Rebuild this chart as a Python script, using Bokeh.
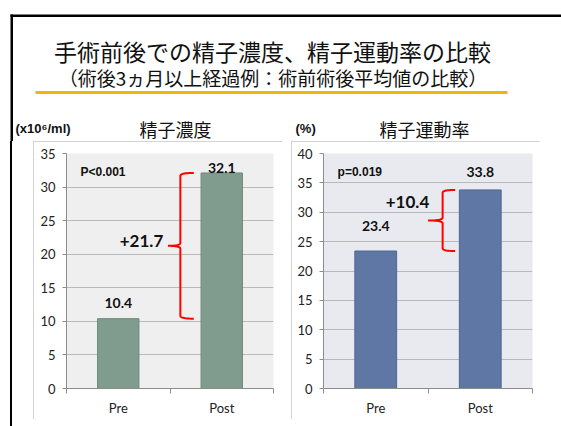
import numpy as np
from bokeh.plotting import figure
from bokeh.layouts import column, row
from bokeh.models import Range1d, Label, BoxAnnotation, FixedTicker, ColumnDataSource, Spacer
from bokeh.core.properties import value
from bokeh.embed import file_html
from bokeh.resources import INLINE

# ---------------- data ----------------
title_main = "手術前後での精子濃度、精子運動率の比較"
title_sub = "（術後3ヵ月以上経過例：術前術後平均値の比較）"

categories = ["Pre", "Post"]

conc_title = "精子濃度"
conc_unit = "(x10⁶/ml)"
conc_values = [10.4, 32.1]
conc_p = "P<0.001"
conc_ymax = 35

mot_title = "精子運動率"
mot_unit = "(%)"
mot_values = [23.4, 33.8]
mot_p = "p=0.019"
mot_ymax = 40

yticks_step = 5

JP = "Noto Sans CJK JP"
NUM = "Lato"
ARIAL = "Liberation Sans"

PAGE_W, PAGE_H = 561, 426
H_TOP = 141          # top strip (titles)
H_ROW = PAGE_H - H_TOP
STRIP_W = 33         # slide margin left of first panel
PANEL_W, PANEL_H = 249, 278
GAP = 9


def canvas_fig(w, h):
    f = figure(width=w, height=h, x_range=Range1d(0, w), y_range=Range1d(h, 0),
               output_backend="svg", toolbar_location=None,
               min_border=0, min_border_left=0, min_border_right=0,
               min_border_top=0, min_border_bottom=0)
    f.axis.visible = False
    f.grid.visible = False
    f.outline_line_color = None
    f.border_fill_color = "white"
    f.background_fill_color = "white"
    return f


def solid(f, l, r, t, b, color):
    f.add_layout(BoxAnnotation(left=l, right=r, top=t, bottom=b, fill_color=color,
                               fill_alpha=1, line_color=None))


top = canvas_fig(PAGE_W, H_TOP)
solid(top, 10, PAGE_W, 14, 16.5, "black")        # slide border top
solid(top, 10, 12.5, 14, H_TOP, "black")          # slide border left
solid(top, 35, 507, 90.5, 93.5, "#F5B400")        # gold rule
top.add_layout(Label(x=272, y=50, text=title_main, text_align="center", text_baseline="middle",
                     text_font=JP, text_font_size="23px", text_color="#111111"))
top.add_layout(Label(x=272.5, y=77, text=title_sub, text_align="center", text_baseline="middle",
                     text_font=JP, text_font_size="19px", text_color="#111111"))
for txt, cx in [(conc_title, 175), (mot_title, 424)]:
    top.add_layout(Label(x=cx, y=128, text=txt, text_align="center", text_baseline="middle",
                         text_font=JP, text_font_size="18px", text_color="#111111"))
for txt, lx in [(conc_unit, 15), (mot_unit, 295)]:
    top.add_layout(Label(x=lx, y=128, text=txt, text_align="left", text_baseline="middle",
                         text_font=ARIAL, text_font_style="bold", text_font_size="13px",
                         text_color="#111111"))

# left slide border continuing beside the panels
strip = Spacer(width=STRIP_W, height=H_ROW,
               styles={"background": "linear-gradient(to right, #ffffff 0px, #ffffff 10px, "
                                     "#000000 10px, #000000 12.5px, #ffffff 12.5px)"})


def brace_path(xv, xend, xtip, ybot, ytop, ymid, r):
    t = np.linspace(0, 1, 12)

    def quad(p0, c, p1):
        return ((1 - t) ** 2 * p0[0] + 2 * (1 - t) * t * c[0] + t ** 2 * p1[0],
                (1 - t) ** 2 * p0[1] + 2 * (1 - t) * t * c[1] + t ** 2 * p1[1])
    segs = [
        quad((xend, ytop), (xv, ytop), (xv, ytop - r)),
        quad((xv, ymid + r), (xv, ymid), (xtip, ymid)),
        quad((xtip, ymid), (xv, ymid), (xv, ymid - r)),
        quad((xv, ybot + r), (xv, ybot), (xend, ybot)),
    ]
    return np.concatenate([s[0] for s in segs]), np.concatenate([s[1] for s in segs])


def chart(x0, bl, br, ymax, vals, color, edge, bg, pval, label_y, diff_px, brace_x):
    n = len(categories)
    bt, bb = 12, 31
    fl, fw = bl, PANEL_W - bl - br
    ft, fh = bt, PANEL_H - bt - bb

    def dx(px):  # page px -> data x
        return (px - x0 - fl) / fw * n

    def dy(py):  # page px -> data y
        return ymax * (ft + fh - (py - H_TOP)) / fh

    centers = np.arange(n) + 0.5
    bounds = np.arange(n + 1)
    p = figure(width=PANEL_W, height=PANEL_H, x_range=Range1d(0, n), y_range=Range1d(0, ymax),
               output_backend="svg", toolbar_location=None,
               min_border_left=bl, min_border_right=br, min_border_top=bt, min_border_bottom=bb,
               styles={"outline": "1.5px solid #C6C6C6", "outline-offset": "-1.5px"})
    p.background_fill_color = bg
    p.border_fill_color = "white"
    p.outline_line_color = None
    p.xgrid.visible = False
    p.ygrid.grid_line_color = "#B9B9B9"
    p.ygrid.ticker = FixedTicker(ticks=list(range(yticks_step, ymax + 1, yticks_step)))

    p.yaxis.ticker = FixedTicker(ticks=list(range(0, ymax + 1, yticks_step)))
    p.yaxis.axis_line_color = "#8C8C8C"
    p.yaxis.major_tick_line_color = "#8C8C8C"
    p.yaxis.major_tick_in = 0
    p.yaxis.major_tick_out = 4
    p.yaxis.minor_tick_line_color = None
    p.yaxis.major_label_text_font = NUM
    p.yaxis.major_label_text_font_size = "13px"
    p.yaxis.major_label_text_color = "#222222"
    p.yaxis.major_label_standoff = 7

    p.xaxis.ticker = FixedTicker(ticks=list(centers), minor_ticks=list(bounds))
    p.xaxis.major_label_overrides = {float(c): cat for c, cat in zip(centers, categories)}
    p.xaxis.axis_line_color = "#8C8C8C"
    p.xaxis.major_tick_line_color = None
    p.xaxis.major_tick_out = 0
    p.xaxis.major_tick_in = 0
    p.xaxis.minor_tick_line_color = "#8C8C8C"
    p.xaxis.minor_tick_in = 0
    p.xaxis.minor_tick_out = 5
    p.xaxis.major_label_text_font = NUM
    p.xaxis.major_label_text_font_size = "13px"
    p.xaxis.major_label_text_color = "#222222"
    p.xaxis.major_label_standoff = 6

    src = ColumnDataSource(dict(x=centers, top=vals, lab=[f"{v:.1f}" for v in vals],
                                ly=label_y))
    p.vbar(x="x", top="top", width=0.4, source=src, fill_color=color, line_color=edge,
           line_width=1)
    p.text(x="x", y="ly", text="lab", source=src, text_align="center", text_baseline="middle",
           text_font=value(NUM), text_font_style="bold", text_font_size="14px",
           text_color="#111111")
    p.add_layout(Label(x=0.135, y=ymax * 0.922, text=pval, text_align="left",
                       text_baseline="middle", text_font=ARIAL,
                       text_font_style="bold", text_font_size="12px", text_color="#111111"))

    diff = vals[1] - vals[0]
    ymid = (vals[0] + vals[1]) / 2
    xs, ys = brace_path(centers[1] + brace_x[0], centers[1] + brace_x[1],
                        centers[1] + brace_x[2], vals[0], vals[1], ymid, ymax * 0.012)
    p.line(xs, ys, line_color="#FF0000", line_width=2)
    p.add_layout(Label(x=dx(diff_px[0]), y=dy(diff_px[1]), text=f"+{diff:.1f}",
                       text_align="center", text_baseline="middle", text_font=NUM,
                       text_font_style="bold", text_font_size="17px", text_color="#111111"))
    return p


conc_ly = [conc_values[0] + 2.26, conc_values[1] + 0.67]
mot_ly = [mot_values[0] + 4.3, mot_values[1] + 3.0]

left = chart(STRIP_W, 33, 9, conc_ymax, conc_values, "#809C8E", "#6D8A7B", "#EFEFEF",
             conc_p, conc_ly, (141, 240), (-0.4, -0.27, -0.52))
right = chart(STRIP_W + PANEL_W + GAP, 32, 8, mot_ymax, mot_values, "#5E77A4", "#4D6593",
              "#E9EAEF", mot_p, mot_ly, (407, 201), (-0.36, -0.24, -0.50))

layout = column(top, row(strip, left, Spacer(width=GAP, height=PANEL_H), right, spacing=0),
                spacing=0)

open("out.html", "w").write(file_html(layout, INLINE))
